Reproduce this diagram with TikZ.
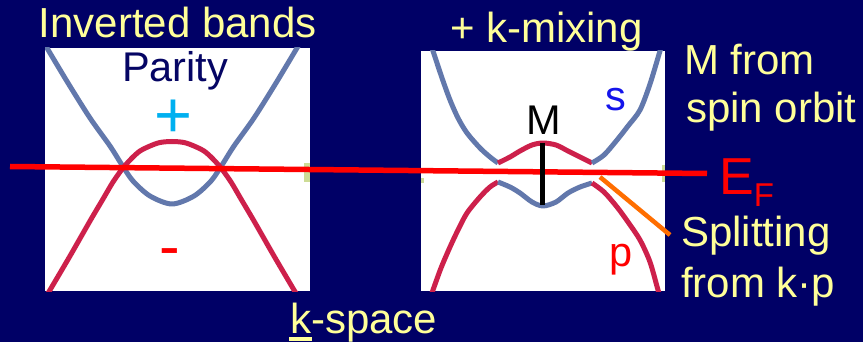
\documentclass[tikz,border=0pt]{standalone}
\usepackage{fontspec}
\setmainfont{Liberation Sans}
\definecolor{bg}{RGB}{0,0,102}
\definecolor{txt}{RGB}{255,255,153}
\definecolor{bandblue}{RGB}{98,120,172}
\definecolor{bandred}{RGB}{205,32,75}
\definecolor{efred}{RGB}{255,0,0}
\definecolor{paritynavy}{RGB}{5,5,100}
\definecolor{pluscyan}{RGB}{0,176,240}
\definecolor{sblue}{RGB}{20,20,235}
\definecolor{splitorange}{RGB}{255,110,0}
\definecolor{markgreen}{RGB}{205,220,150}
\begin{document}
\begin{tikzpicture}[x=1pt,y=-1pt,
  lbl/.style={inner sep=0pt, anchor=base west, text=txt, font=\fontsize{42}{42}\selectfont},
  inlbl/.style={inner sep=0pt, anchor=base west, font=\fontsize{41.5}{41.5}\selectfont},
  panel/.style={fill=white, draw=none, inner sep=0pt},
  band/.style={line width=5pt, line join=round},
  efline/.style={draw=efred, line width=5.5pt},
  mline/.style={draw=black, line width=5pt},
  splitline/.style={draw=splitorange, line width=4.5pt}]
\fill[bg] (0,0) rectangle (863,342);
\useasboundingbox (0,0) rectangle (863,342);
% panels
\node[panel, minimum width=265pt, minimum height=243pt] (lp) at (177.5,169.5) {};
\node[panel, minimum width=244pt, minimum height=240pt] (rp) at (543,171) {};
% small marks at panel edges
\fill[markgreen] (304,163) rectangle (310,182);
\fill[markgreen] (662,165) rectangle (665,182);
\fill[markgreen] (421,178) rectangle (424,183);
% left panel bands
\begin{scope}
\clip (45,48) rectangle (310,291);
\draw[band, bandblue] plot[smooth] coordinates {(44,43) (47,48) (68,83) (90,118) (110,146) (122,165) (133,181) (150,196) (172,204) (194,196) (211,181) (222,165) (234,146) (254,118) (276,83) (297,48) (300,43)};
\draw[band, bandred] plot[smooth] coordinates {(47,295) (50,290) (70,256) (90,221) (103,199) (113,182) (123,168) (132,158) (140,151) (150,146) (160,142.5) (172,141.5) (184,142.5) (194,146) (204,151) (212,158) (221,168) (231,182) (241,199) (254,221) (274,256) (294,290) (297,295)};
\end{scope}
% right panel bands
\begin{scope}
\clip (421,51) rectangle (665,291);
\draw[band, bandblue] plot[smooth] coordinates {(431,45) (433,51) (442,78) (450,100) (458,118) (467,133) (480,148) (490,157) (498,163)};
\draw[band, bandred] plot[smooth] coordinates {(498,163) (510,157) (520,151) (532,145) (543,143) (556,145) (568,151) (580,157) (592,163)};
\draw[band, bandblue] plot[smooth] coordinates {(592,163) (604,155) (617,140) (628,126) (640,110) (650,84) (660,51) (662,45)};
\draw[band, bandred] plot[smooth] coordinates {(431,296) (433,290) (441,268) (450,247) (458,230) (467,213) (480,197) (490,187) (498,182)};
\draw[band, bandblue] plot[smooth] coordinates {(498,182) (510,187) (520,193) (532,202) (543,206) (556,202) (568,193) (580,187) (592,183)};
\draw[band, bandred] plot[smooth] coordinates {(592,183) (604,192) (617,207) (628,222) (640,240) (650,262) (658,290) (660,296)};
\end{scope}
% Fermi level line
\coordinate (efA) at (10,166.5);
\coordinate (efB) at (707,173.5);
\draw[efline] (efA) -- (efB);
% M gap line
\coordinate (mtop) at (542,143);
\coordinate (mbot) at (542,205);
\draw[mline] (mtop) -- (mbot);
% splitting pointer
\coordinate (splA) at (600,177);
\coordinate (splB) at (670,235);
\draw[splitline] (splA) -- (splB);
% texts
\node[lbl] (tinv) at (38.5,38) {Inverted bands};
\node[lbl] (tmix) at (450,43) {+ k-mixing};
\node[lbl] (tmf) at (684,75) {M from};
\node[lbl] (tso) at (686,123) {spin orbit};
\node[lbl] (tspl) at (681,247) {Splitting};
\node[lbl] (tfkp) at (681,298) {from k·p};
\node[lbl] (tks) at (290,333) {\hspace*{-1pt}\rlap{\rule[-8pt]{23pt}{4pt}}\hspace*{1pt}k-space};
\node[inlbl, text=paritynavy] (tpar) at (122,82) {Parity};
\node[inner sep=0pt, anchor=base, text=pluscyan, font=\fontsize{65}{65}\selectfont] (tplus) at (173,138) {+};
\node[inner sep=0pt, anchor=base, text=efred, font=\fontsize{62}{62}\selectfont] (tminus) at (170,268) {-};
\node[inlbl, text=black] (tM) at (526,135) {M};
\node[inlbl, text=sblue] (ts) at (605,111) {s};
\node[inlbl, text=efred] (tp) at (609,266) {p};
\node[inner sep=0pt, anchor=base west, text=efred, font=\fontsize{52}{52}\selectfont] (tEF) at (719,195) {E\raisebox{-12pt}{\fontsize{33}{33}\selectfont F}};
\end{tikzpicture}
\end{document}
